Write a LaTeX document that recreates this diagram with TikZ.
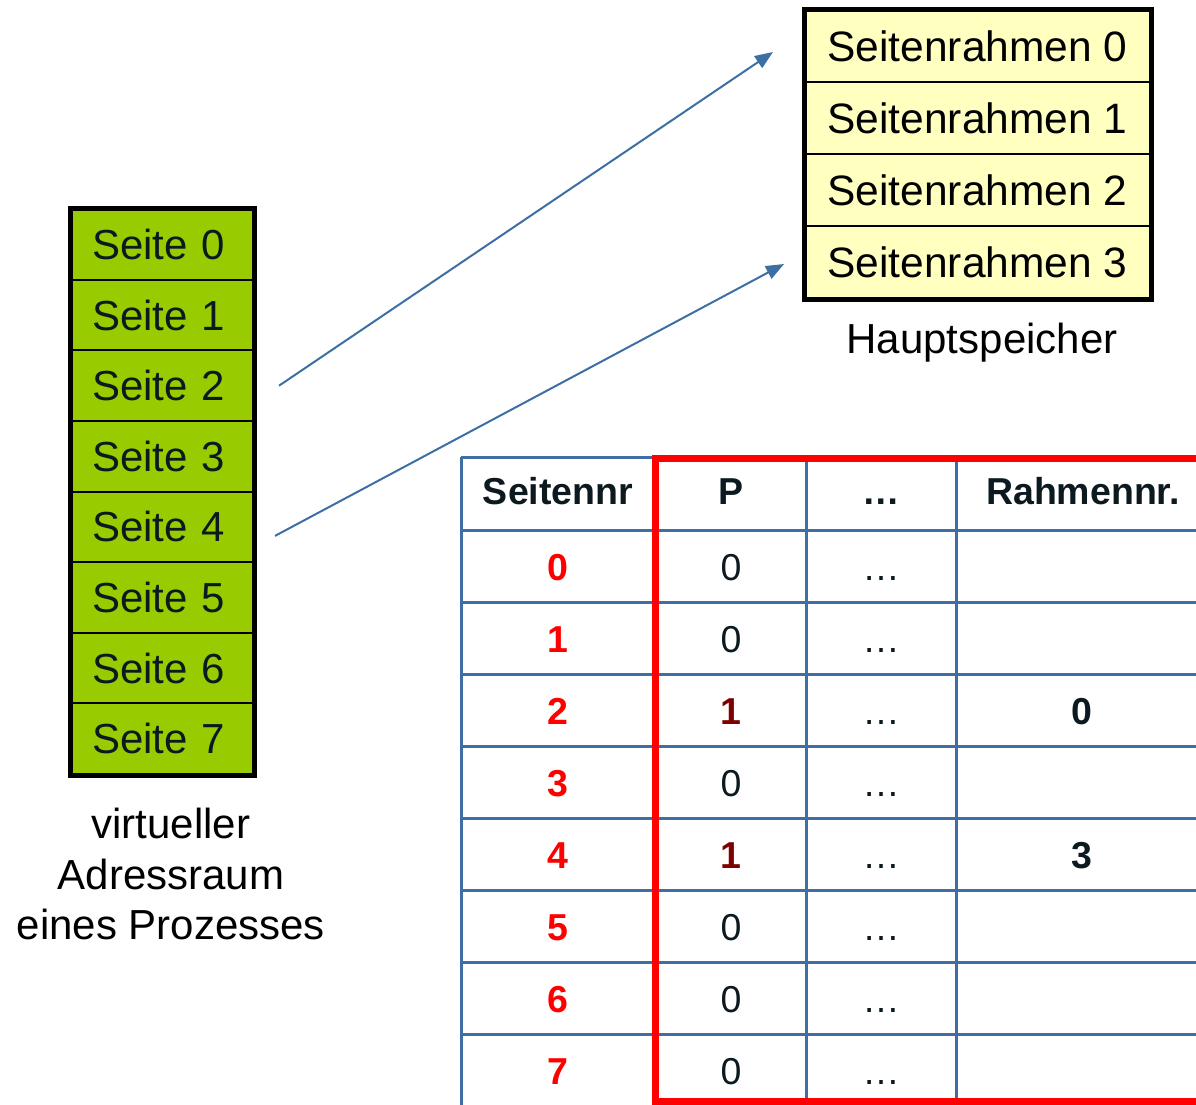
\documentclass[tikz,border=0pt]{standalone}
\usepackage{fontspec}
\setmainfont{Liberation Sans}
\usetikzlibrary{arrows.meta,positioning}
\definecolor{leaf}  {HTML}{99CC00}
\definecolor{cream} {HTML}{FFFFC0}
\definecolor{steel} {HTML}{3D6FA4}
\definecolor{signal}{HTML}{FF0000}
\definecolor{maroon}{HTML}{7F0000}
\definecolor{ink}   {HTML}{0C1A20}
\newcommand\bigfont{\fontsize{42}{50.5}\selectfont}
\newcommand\tabfont{\fontsize{37.5}{44}\selectfont}
\newcommand\pone{\textbf{\textcolor{maroon}{1}}}

\begin{document}
\begin{tikzpicture}[x=1pt, y=-1pt,
    page/.style={draw=black, line width=2pt, fill=leaf, text=ink,
      minimum width=181.5pt, minimum height=70.6pt, text width=140pt,
      inner xsep=20.75pt, align=left, font=\bigfont},
    frame/.style={draw=black, line width=2pt, fill=cream,
      minimum width=345pt, minimum height=72pt,
      font=\fontsize{42.5}{50.5}\selectfont},
    cell/.style={anchor=base, text=ink, font=\tabfont},
    head/.style={cell, font=\bfseries\tabfont},
    grid/.style={draw=steel, line width=3pt},
    maparrow/.style={draw=steel, line width=2pt,
      -{Triangle[length=18pt, width=14pt]}}]
  \useasboundingbox (0,0) rectangle (1196,1104);

  % virtueller Adressraum
  \foreach \i in {0,...,7}
    \node[page] (s\i) at (162.25, 244.5+70.6*\i) {Seite \i};
  \draw[line width=5pt] (s0.north west) rectangle (s7.south east);
  \node[align=center, font=\bigfont] (vas) at (171,874)
    {virtueller\\Adressraum\\eines Prozesses};

  % Hauptspeicher
  \foreach \i in {0,...,3}
    \node[frame] (r\i) at (977.5, 46+72*\i) {Seitenrahmen \i};
  \draw[line width=5pt] (r0.north west) rectangle (r3.south east);
  \node[font=\bigfont] (hs) at (982,343) {Hauptspeicher};

  % Abbildung
  \draw[maparrow] ([xshift=25pt]s2.east) -- ([xshift=-31pt, yshift=-6pt]r0.west);
  \draw[maparrow] ([xshift=21pt, yshift=-9pt]s4.east) -- ([xshift=-20pt, yshift=-2pt]r3.west);

  % Seitentabelle
  \draw[grid] (461,457) -- (1210,457);
  \foreach \k in {0,...,7}
    \draw[grid] (461,530+72*\k) -- (1210,530+72*\k);
  \foreach \x in {461,654,806,956}
    \draw[grid] (\x,457) -- (\x,1110);

  \node[head] (hnr) at (558,504) {Seitennr};
  \node[head] (hp)  at (731,504) {P};
  \node[head] (hd)  at (881,504) {…};
  \node[head] (hrf) at (1083,504) {Rahmennr.};

  \foreach \i/\p/\f in {0/0/,1/0/,2/\pone/0,3/0/,4/\pone/3,5/0/,6/0/,7/0/}{
    \node[head, text=signal] (n\i) at (558,580+72*\i) {\i};
    \node[cell] (p\i) at (731,580+72*\i) {\p};
    \node[cell] (d\i) at (881,580+72*\i) {…};
    \node[head] (f\i) at (1082,580+72*\i) {\f};
  }

  \draw[signal, line width=7pt] (655.5,458) rectangle (1220,1101);
\end{tikzpicture}
\end{document}
